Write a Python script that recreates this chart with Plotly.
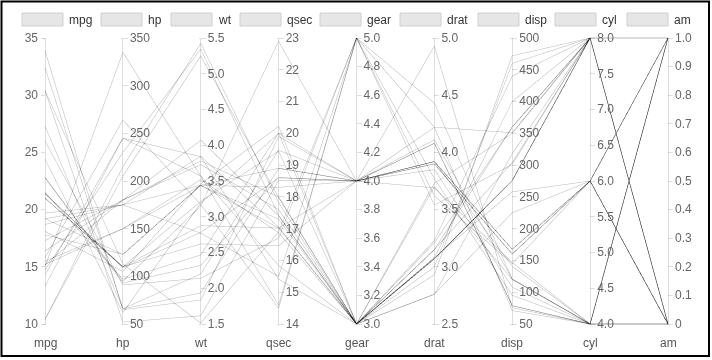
import plotly.graph_objects as go

mpg  = [21, 21, 22.8, 21.4, 18.7, 18.1, 14.3, 24.4, 22.8, 19.2, 17.8, 16.4, 17.3, 15.2, 10.4, 10.4,
        14.7, 32.4, 30.4, 33.9, 21.5, 15.5, 15.2, 13.3, 19.2, 27.3, 26, 30.4, 15.8, 19.7, 15, 21.4]
cyl  = [6, 6, 4, 6, 8, 6, 8, 4, 4, 6, 6, 8, 8, 8, 8, 8, 8, 4, 4, 4, 4, 8, 8, 8, 8, 4, 4, 4, 8, 6, 8, 4]
disp = [160, 160, 108, 258, 360, 225, 360, 146.7, 140.8, 167.6, 167.6, 275.8, 275.8, 275.8, 472, 460,
        440, 78.7, 75.7, 71.1, 120.1, 318, 304, 350, 400, 79, 120.3, 95.1, 351, 145, 301, 121]
hp   = [110, 110, 93, 110, 175, 105, 245, 62, 95, 123, 123, 180, 180, 180, 205, 215,
        230, 66, 52, 65, 97, 150, 150, 245, 175, 66, 91, 113, 264, 175, 335, 109]
drat = [3.90, 3.90, 3.85, 3.08, 3.15, 2.76, 3.21, 3.69, 3.92, 3.92, 3.92, 3.07, 3.07, 3.07, 2.93, 3.00,
        3.23, 4.08, 4.93, 4.22, 3.70, 2.76, 3.15, 3.73, 3.08, 4.08, 4.43, 3.77, 4.22, 3.62, 3.54, 4.11]
wt   = [2.620, 2.875, 2.320, 3.215, 3.440, 3.460, 3.570, 3.190, 3.150, 3.440, 3.440, 4.070, 3.730, 3.780,
        5.250, 5.424, 5.345, 2.200, 1.615, 1.835, 2.465, 3.520, 3.435, 3.840, 3.845, 1.935, 2.140, 1.513,
        3.170, 2.770, 3.570, 2.780]
qsec = [16.46, 17.02, 18.61, 19.44, 17.02, 20.22, 15.84, 20.00, 22.90, 18.30, 18.90, 17.40, 17.60, 18.00,
        17.98, 17.82, 17.42, 19.47, 18.52, 19.90, 20.01, 16.87, 17.30, 15.41, 17.05, 18.90, 16.70, 16.90,
        14.50, 15.50, 14.60, 18.60]
am   = [1, 1, 1, 0, 0, 0, 0, 0, 0, 0, 0, 0, 0, 0, 0, 0, 0, 1, 1, 1, 0, 0, 0, 0, 0, 1, 1, 1, 1, 1, 1, 1]
gear = [4, 4, 4, 3, 3, 3, 3, 4, 4, 4, 4, 3, 3, 3, 3, 3, 3, 4, 4, 4, 3, 3, 3, 3, 3, 4, 5, 5, 5, 5, 5, 4]

axis_names = ["mpg", "hp", "wt", "qsec", "gear", "drat", "disp", "cyl", "am"]
axis_data = {"mpg": mpg, "hp": hp, "wt": wt, "qsec": qsec, "gear": gear,
             "drat": drat, "disp": disp, "cyl": cyl, "am": am}
axis_ranges = {"mpg": [10, 35], "hp": [50, 350], "wt": [1.5, 5.5], "qsec": [14, 23],
               "gear": [3, 5], "drat": [2.5, 5.0], "disp": [50, 500], "cyl": [4, 8], "am": [0, 1]}
axis_ticks = {
    "mpg": [10, 15, 20, 25, 30, 35],
    "hp": [50, 100, 150, 200, 250, 300, 350],
    "wt": [1.5, 2.0, 2.5, 3.0, 3.5, 4.0, 4.5, 5.0, 5.5],
    "qsec": [14, 15, 16, 17, 18, 19, 20, 21, 22, 23],
    "gear": [3.0, 3.2, 3.4, 3.6, 3.8, 4.0, 4.2, 4.4, 4.6, 4.8, 5.0],
    "drat": [2.5, 3.0, 3.5, 4.0, 4.5, 5.0],
    "disp": [50, 100, 150, 200, 250, 300, 350, 400, 450, 500],
    "cyl": [4.0, 4.5, 5.0, 5.5, 6.0, 6.5, 7.0, 7.5, 8.0],
    "am": [0, 0.1, 0.2, 0.3, 0.4, 0.5, 0.6, 0.7, 0.8, 0.9, 1.0],
}
axis_ticktext = {
    "mpg": ["10", "15", "20", "25", "30", "35"],
    "hp": ["50", "100", "150", "200", "250", "300", "350"],
    "wt": ["1.5", "2.0", "2.5", "3.0", "3.5", "4.0", "4.5", "5.0", "5.5"],
    "qsec": ["14", "15", "16", "17", "18", "19", "20", "21", "22", "23"],
    "gear": ["3.0", "3.2", "3.4", "3.6", "3.8", "4.0", "4.2", "4.4", "4.6", "4.8", "5.0"],
    "drat": ["2.5", "3.0", "3.5", "4.0", "4.5", "5.0"],
    "disp": ["50", "100", "150", "200", "250", "300", "350", "400", "450", "500"],
    "cyl": ["4.0", "4.5", "5.0", "5.5", "6.0", "6.5", "7.0", "7.5", "8.0"],
    "am": ["0", "0.1", "0.2", "0.3", "0.4", "0.5", "0.6", "0.7", "0.8", "0.9", "1.0"],
}
legend_names = ["mpg", "hp", "wt", "qsec", "gear", "drat", "disp", "cyl", "am"]

W, H = 712, 360
AX_LEFT, AX_RIGHT, AX_TOP, AX_BOTTOM = 45, 668, 36, 326
FONT = "Liberation Sans, Arial, sans-serif"

dims = []
for n in axis_names:
    d = dict(label="", values=axis_data[n], range=axis_ranges[n],
             tickvals=axis_ticks[n], ticktext=axis_ticktext[n])
    if n == "am":
        # empty band on the binary axis: every line goes to the translucent layer
        d["constraintrange"] = [0.4, 0.6]
    dims.append(d)

fig = go.Figure(go.Parcoords(
    dimensions=dims,
    line=dict(color="#000000"),
    unselected=dict(line=dict(color="#000000", opacity=0.28)),
    labelside="bottom",
    labelfont=dict(family=FONT, size=12, color="#666"),
    tickfont=dict(family=FONT, size=12, color="#666"),
    rangefont=dict(family=FONT, size=1, color="rgba(0,0,0,0)"),
    domain=dict(x=[AX_LEFT / W, AX_RIGHT / W], y=[1 - AX_BOTTOM / H, 1 - AX_TOP / H]),
))

shapes = [dict(type="rect", xref="paper", yref="paper", x0=1.5 / W, x1=709 / W, y0=1 - 356 / H, y1=1 - 1.5 / H,
               line=dict(color="#000", width=2), fillcolor="rgba(0,0,0,0)")]
annotations = []
box_x = [22, 101, 171, 240, 320, 400, 478, 555, 627]
for bx, name in zip(box_x, legend_names):
    shapes.append(dict(type="rect", xref="paper", yref="paper", x0=bx / W, x1=(bx + 41) / W,
                       y0=1 - 26 / H, y1=1 - 13 / H, line=dict(color="#d0d0d0", width=1),
                       fillcolor="#e6e6e6"))
    annotations.append(dict(xref="paper", yref="paper", x=(bx + 45) / W, y=1 - 19.5 / H, text=name,
                            showarrow=False, xanchor="left", yanchor="middle",
                            font=dict(family=FONT, size=12, color="#333")))
n_ax = len(axis_names)
for i, name in enumerate(axis_names):
    xp = (AX_LEFT + i * (AX_RIGHT - AX_LEFT) / (n_ax - 1)) / W
    annotations.append(dict(xref="paper", yref="paper", x=xp, y=1 - 343 / H, text=name,
                            showarrow=False, xanchor="center", yanchor="middle",
                            font=dict(family=FONT, size=12, color="#555")))

fig.update_layout(width=W, height=H, margin=dict(l=0, r=0, t=0, b=0),
                  paper_bgcolor="white", plot_bgcolor="white",
                  shapes=shapes, annotations=annotations)

post = """
document.body.style.margin = '0';
var gd = document.getElementById('{plot_id}');
function fixAxes(){
  gd.querySelectorAll('.axis-brush').forEach(function(b){ b.style.display = 'none'; });
  var groups = Array.prototype.slice.call(gd.querySelectorAll('.y-axis'));
  groups = groups.filter(function(g){ return g.querySelector('.axis'); });
  groups.sort(function(a,b){ return a.getBoundingClientRect().left - b.getBoundingClientRect().left; });
  groups.forEach(function(g, i){
    var ax = g.querySelector('.axis');
    ax.querySelectorAll('.domain, .tick line').forEach(function(el){
      el.setAttribute('stroke', '#000'); el.setAttribute('stroke-opacity', '0.13');
      el.style.stroke = '#000'; el.style.strokeOpacity = '0.13';
    });
    ax.querySelectorAll('.tick text').forEach(function(t){ t.style.textShadow = 'none'; });
    if (i === 0) return;
    ax.querySelectorAll('.tick').forEach(function(t){
      var l = t.querySelector('line'); if (l) { l.setAttribute('x2', '5'); }
      var tx = t.querySelector('text');
      if (tx) { tx.setAttribute('x', '7'); tx.style.textAnchor = 'start'; tx.setAttribute('text-anchor', 'start'); }
    });
  });
}
fixAxes();
setTimeout(fixAxes, 50);
setTimeout(fixAxes, 300);
"""
fig.write_html("out.html", post_script=post, config={"displayModeBar": False})
